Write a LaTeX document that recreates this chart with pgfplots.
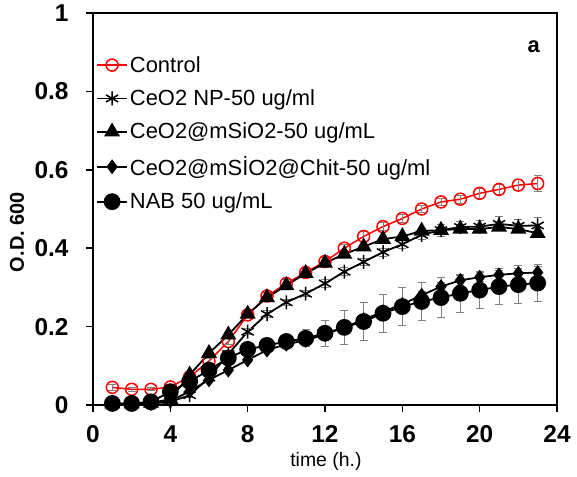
\documentclass[border=0pt]{standalone}
\usepackage{fontspec}
\setmainfont{Liberation Sans}
\usepackage{pgfplots}
\pgfplotsset{compat=1.18}
\usepackage{pgfplotstable}

% t, mean, error
\pgfplotstableread{
t y e
1 0.045 0.008
2 0.040 0.005
3 0.040 0.004
4 0.046 0.005
5 0.072 0.006
6 0.112 0.006
7 0.162 0.008
8 0.230 0.008
9 0.278 0.008
10 0.310 0.010
11 0.338 0.010
12 0.366 0.010
13 0.400 0.010
14 0.430 0.012
15 0.455 0.010
16 0.476 0.010
17 0.500 0.010
18 0.518 0.010
19 0.525 0.010
20 0.540 0.012
21 0.550 0.012
22 0.561 0.015
23 0.565 0.020
}\control

\pgfplotstableread{
t y e
1 0.002 0.003
2 0.002 0.003
3 0.004 0.003
4 0.008 0.004
5 0.025 0.005
6 0.070 0.006
7 0.130 0.008
8 0.187 0.008
9 0.232 0.008
10 0.262 0.008
11 0.284 0.008
12 0.310 0.010
13 0.340 0.010
14 0.365 0.010
15 0.390 0.010
16 0.410 0.012
17 0.434 0.012
18 0.446 0.015
19 0.454 0.015
20 0.455 0.015
21 0.462 0.018
22 0.457 0.015
23 0.458 0.020
}\ceonp

\pgfplotstableread{
t y e
1 0.003 0.003
2 0.003 0.003
3 0.005 0.003
4 0.015 0.004
5 0.077 0.005
6 0.132 0.006
7 0.179 0.006
8 0.232 0.006
9 0.274 0.006
10 0.305 0.006
11 0.336 0.006
12 0.362 0.006
13 0.385 0.006
14 0.404 0.006
15 0.423 0.006
16 0.430 0.006
17 0.444 0.006
18 0.446 0.008
19 0.449 0.008
20 0.449 0.008
21 0.454 0.008
22 0.449 0.008
23 0.438 0.008
}\ceosi

\pgfplotstableread{
t y e
1 0.002 0.003
2 0.002 0.003
3 0.004 0.003
4 0.010 0.004
5 0.035 0.005
6 0.064 0.006
7 0.089 0.006
8 0.115 0.006
9 0.140 0.006
10 0.155 0.006
11 0.165 0.008
12 0.180 0.008
13 0.198 0.008
14 0.218 0.008
15 0.238 0.010
16 0.257 0.010
17 0.280 0.010
18 0.302 0.010
19 0.318 0.012
20 0.326 0.012
21 0.332 0.012
22 0.336 0.012
23 0.338 0.015
}\chit

\pgfplotstableread{
t y e
1 0.004 0.005
2 0.004 0.005
3 0.008 0.005
4 0.034 0.008
5 0.060 0.008
6 0.089 0.010
7 0.120 0.010
8 0.142 0.012
9 0.152 0.012
10 0.162 0.015
11 0.170 0.022
12 0.183 0.033
13 0.198 0.043
14 0.213 0.048
15 0.234 0.048
16 0.251 0.049
17 0.264 0.049
18 0.274 0.050
19 0.285 0.048
20 0.293 0.048
21 0.302 0.046
22 0.307 0.048
23 0.311 0.048
}\nab

\begin{document}
\begin{tikzpicture}
\begin{axis}[
    name=ax,
    scale only axis,
    width=464bp, height=392bp,
    xmin=0, xmax=24, ymin=0, ymax=1,
    xtick={0,4,...,24},
    ytick={0,0.2,0.4,0.6,0.8,1},
    tick pos=left,
    tick align=outside,
    major tick length=7bp,
    axis line style={line width=2.5bp},
    every tick/.style={black, line width=1.5bp},
    /pgf/number format/assume math mode=true,
    ticklabel style={font=\bfseries\fontsize{24.5}{28}\selectfont},
    yticklabel style={xshift=-14bp},
    xticklabel style={yshift=-10bp},
    xlabel={time (h.)},
    ylabel={O.D. 600},
    xlabel style={font=\fontsize{19.5}{23}\selectfont, at={(axis description cs:0.502,-0.145)}, anchor=center},
    ylabel style={font=\bfseries\fontsize{20}{24}\selectfont, at={(axis description cs:-0.164,0.441)}, anchor=center},
    legend style={at={(axis description cs:0.0,0.9)}, anchor=north west, draw=none, fill=none,
        font=\fontsize{22}{26}\selectfont, row sep=12bp, cells={anchor=west}},
    legend image code/.code={\draw[mark repeat=2,mark phase=2,#1] plot coordinates {(0bp,0bp) (15bp,0bp) (30bp,0bp)};},
    error bars/error bar style={color=gray, line width=1bp},
    error bars/error mark options={rotate=90, mark size=4bp, line width=1bp, color=gray},
]
\addplot[red, line width=1.5bp, mark=o, mark size=6bp, mark options={line width=1.5bp},
    error bars/.cd, y dir=both, y explicit]
    table[x=t, y=y, y error=e] {\control};
\addlegendentry{Control}
\addplot[black, line width=1.8bp, mark=asterisk, mark size=7bp, mark options={line width=1.5bp},
    error bars/.cd, y dir=both, y explicit]
    table[x=t, y=y, y error=e] {\ceonp};
\addlegendentry{CeO2 NP-50 ug/ml}
\addplot[black, line width=1.8bp, mark=triangle*, mark size=7.5bp,
    error bars/.cd, y dir=both, y explicit]
    table[x=t, y=y, y error=e] {\ceosi};
\addlegendentry{CeO2@mSiO2-50 ug/mL}
\addplot[black, line width=1.8bp, mark=diamond*, mark size=6bp,
    error bars/.cd, y dir=both, y explicit]
    table[x=t, y=y, y error=e] {\chit};
\addlegendentry{CeO2@mSİO2@Chit-50 ug/ml}
\addplot[black, line width=1.8bp, mark=*, mark size=7.5bp,
    error bars/.cd, y dir=both, y explicit]
    table[x=t, y=y, y error=e] {\nab};
\addlegendentry{NAB 50 ug/mL}
\node[font=\bfseries\fontsize{22}{26}\selectfont] at (axis cs:22.8,0.913) {a};
\end{axis}
\pgfresetboundingbox
\path ([xshift=-93bp,yshift=-72bp]ax.south west) rectangle ([xshift=20bp,yshift=13bp]ax.north east);
\end{tikzpicture}
\end{document}
